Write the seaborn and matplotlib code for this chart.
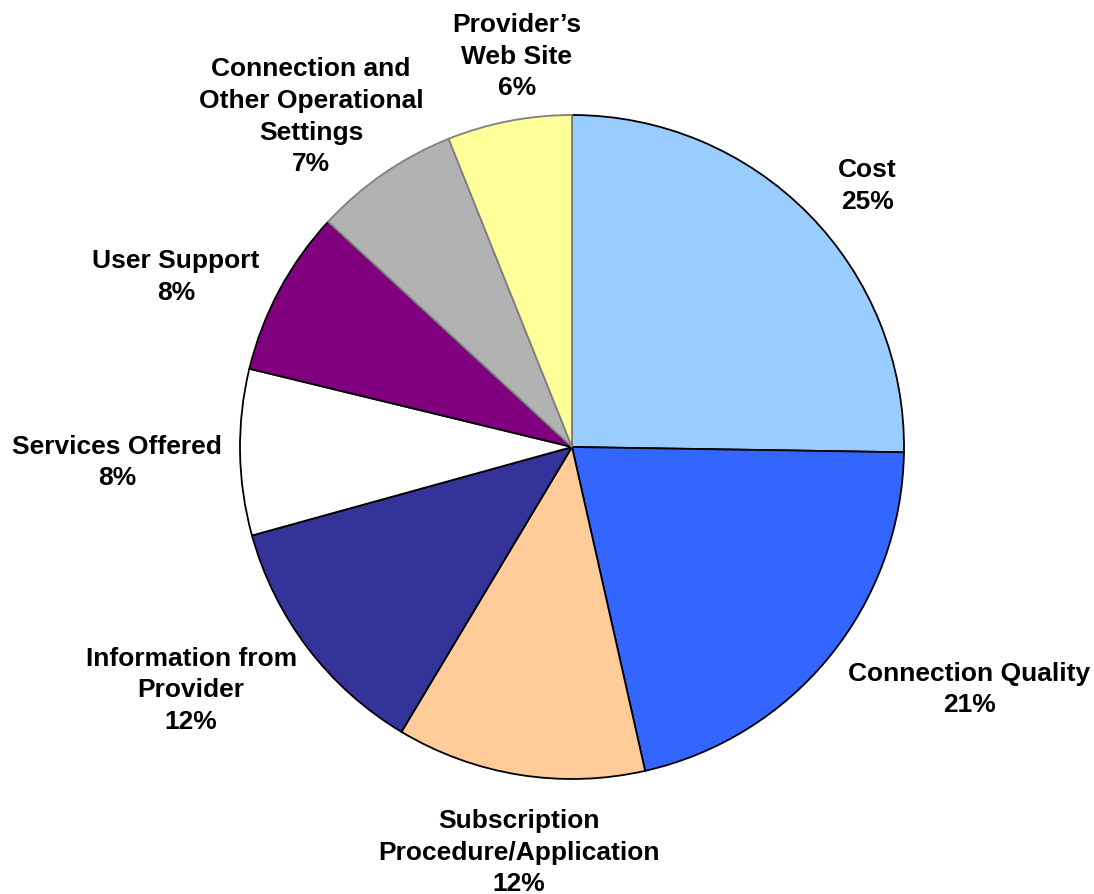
import numpy as np
import matplotlib
matplotlib.use("Agg")
import matplotlib.pyplot as plt
import seaborn as sns

# Share of responses by category (percent)
categories = [
    "Cost",
    "Connection Quality",
    "Subscription\nProcedure/Application",
    "Information from\nProvider",
    "Services Offered",
    "User Support",
    "Connection and\nOther Operational\nSettings",
    "Provider\u2019s\nWeb Site",
]
shares = [25, 21, 12, 12, 8, 8, 7, 6]

colors = ["#99CCFF", "#3366FF", "#FFCC99", "#333399",
          "#FFFFFF", "#800080", "#B2B2B2", "#FFFF99"]
edge_colors = ["black", "black", "black", "black",
               "black", "black", "#808080", "#808080"]

# Label placement: radial distance (in radii) and angular nudge (deg)
label_dist = [1.19, 1.40, 1.23, 1.36, 1.37, 1.30, 1.27, 1.19]
label_nudge = [-3.0, 7.8, 1.6, -4.8, 0.9, 4.8, 3.7, -2.9]

sns.set_theme(style="white")
plt.rcParams["font.family"] = ["Liberation Sans", "DejaVu Sans"]

W, H = 1094, 895
fig = plt.figure(figsize=(W / 100, H / 100), dpi=100)
cx, cy, r = 572, 447, 332
ax = fig.add_axes([(cx - r) / W, (cy - r) / H, 2 * r / W, 2 * r / H])

wedges, _ = ax.pie(shares, colors=colors, startangle=90, counterclock=False,
                   wedgeprops=dict(linewidth=1.3))
for w, ec in zip(wedges, edge_colors):
    w.set_edgecolor(ec)

ax.set_xlim(-1, 1)
ax.set_ylim(-1, 1)
ax.set_aspect("equal")
ax.axis("off")

total = sum(shares)
for w, name, val, d, nudge in zip(wedges, categories, shares, label_dist, label_nudge):
    mid = np.deg2rad((w.theta1 + w.theta2) / 2 + nudge)
    pct = round(100 * val / total)
    ax.text(d * np.cos(mid), d * np.sin(mid), f"{name}\n{pct}%",
            ha="center", va="center", fontsize=19, fontweight="bold",
            linespacing=1.4, clip_on=False, color="black")

fig.savefig("out.png", dpi=100)
